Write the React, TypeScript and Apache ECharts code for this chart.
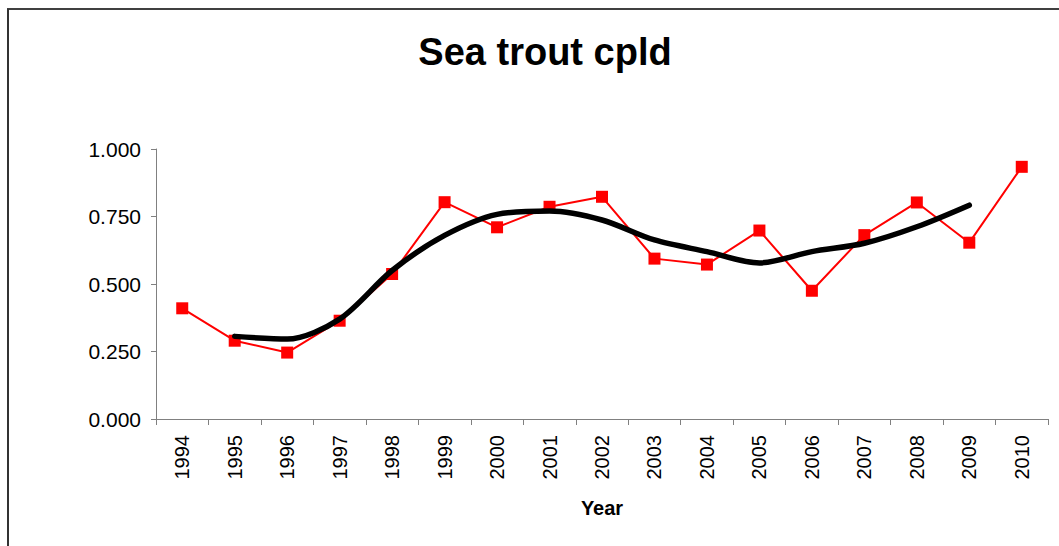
import React, { useEffect, useRef } from "react";
import * as echarts from "echarts";

const years = ["1994","1995","1996","1997","1998","1999","2000","2001","2002","2003","2004","2005","2006","2007","2008","2009","2010"];
const cpld = [0.410, 0.290, 0.246, 0.364, 0.537, 0.803, 0.710, 0.786, 0.823, 0.594, 0.572, 0.698, 0.475, 0.681, 0.802, 0.653, 0.934];
const movingAvg: (number | null)[] = [null, 0.306, 0.296, 0.370, 0.550, 0.680, 0.758, 0.770, 0.737, 0.663, 0.620, 0.578, 0.620, 0.651, 0.712, 0.792, null];
const yTicks = { min: 0, max: 1, interval: 0.25 };

export default function App() {
  const ref = useRef<HTMLDivElement>(null);
  useEffect(() => {
    const chart = echarts.init(ref.current!, null, { renderer: "svg" });
    chart.setOption({
      animation: false,
      backgroundColor: "#ffffff",
      title: {
        text: "Sea trout cpld",
        left: 540,
        textAlign: "center",
        top: 28,
        textStyle: { fontFamily: "Liberation Sans, Arial", fontWeight: "bold", fontSize: 38, color: "#000" },
      },
      graphic: [
        { type: "line", shape: { x1: 7, y1: 9, x2: 1070, y2: 9 }, style: { stroke: "#000", lineWidth: 1.5 } },
        { type: "line", shape: { x1: 8, y1: 9, x2: 8, y2: 560 }, style: { stroke: "#333", lineWidth: 2 } },
      ],
      grid: { left: 156, top: 149, right: 11, bottom: 127 },
      xAxis: {
        type: "category",
        data: years,
        boundaryGap: true,
        name: "Year",
        nameLocation: "middle",
        nameGap: 79,
        nameTextStyle: { fontFamily: "Liberation Sans, Arial", fontWeight: "bold", fontSize: 20, color: "#000" },
        axisLine: { lineStyle: { color: "#808080", width: 1 } },
        axisTick: { show: true, alignWithLabel: false, length: 6, lineStyle: { color: "#808080" } },
        axisLabel: { rotate: 90, margin: 16, fontFamily: "Liberation Sans, Arial", fontSize: 20, color: "#000", interval: 0 },
        splitLine: { show: false },
      },
      yAxis: {
        type: "value",
        min: yTicks.min,
        max: yTicks.max,
        interval: yTicks.interval,
        axisLine: { show: true, lineStyle: { color: "#808080", width: 1 } },
        axisTick: { show: true, length: 5, lineStyle: { color: "#808080" } },
        axisLabel: { margin: 15, fontFamily: "Liberation Sans, Arial", fontSize: 21, color: "#000", formatter: (v: number) => v.toFixed(3) },
        splitLine: { show: false },
      },
      series: [
        {
          type: "line",
          data: cpld,
          symbol: "rect",
          symbolSize: 12,
          lineStyle: { color: "#ff0000", width: 2 },
          itemStyle: { color: "#ff0000" },
          z: 2,
        },
        {
          type: "line",
          data: movingAvg,
          symbol: "none",
          smooth: 0.3,
          connectNulls: false,
          lineStyle: { color: "#000000", width: 5.5, cap: "round", join: "round" },
          z: 3,
        },
      ],
    });
    return () => chart.dispose();
  }, []);
  return <div ref={ref} style={{ position: "fixed", left: 0, top: 0, width: 1059, height: 546 }} />;
}
